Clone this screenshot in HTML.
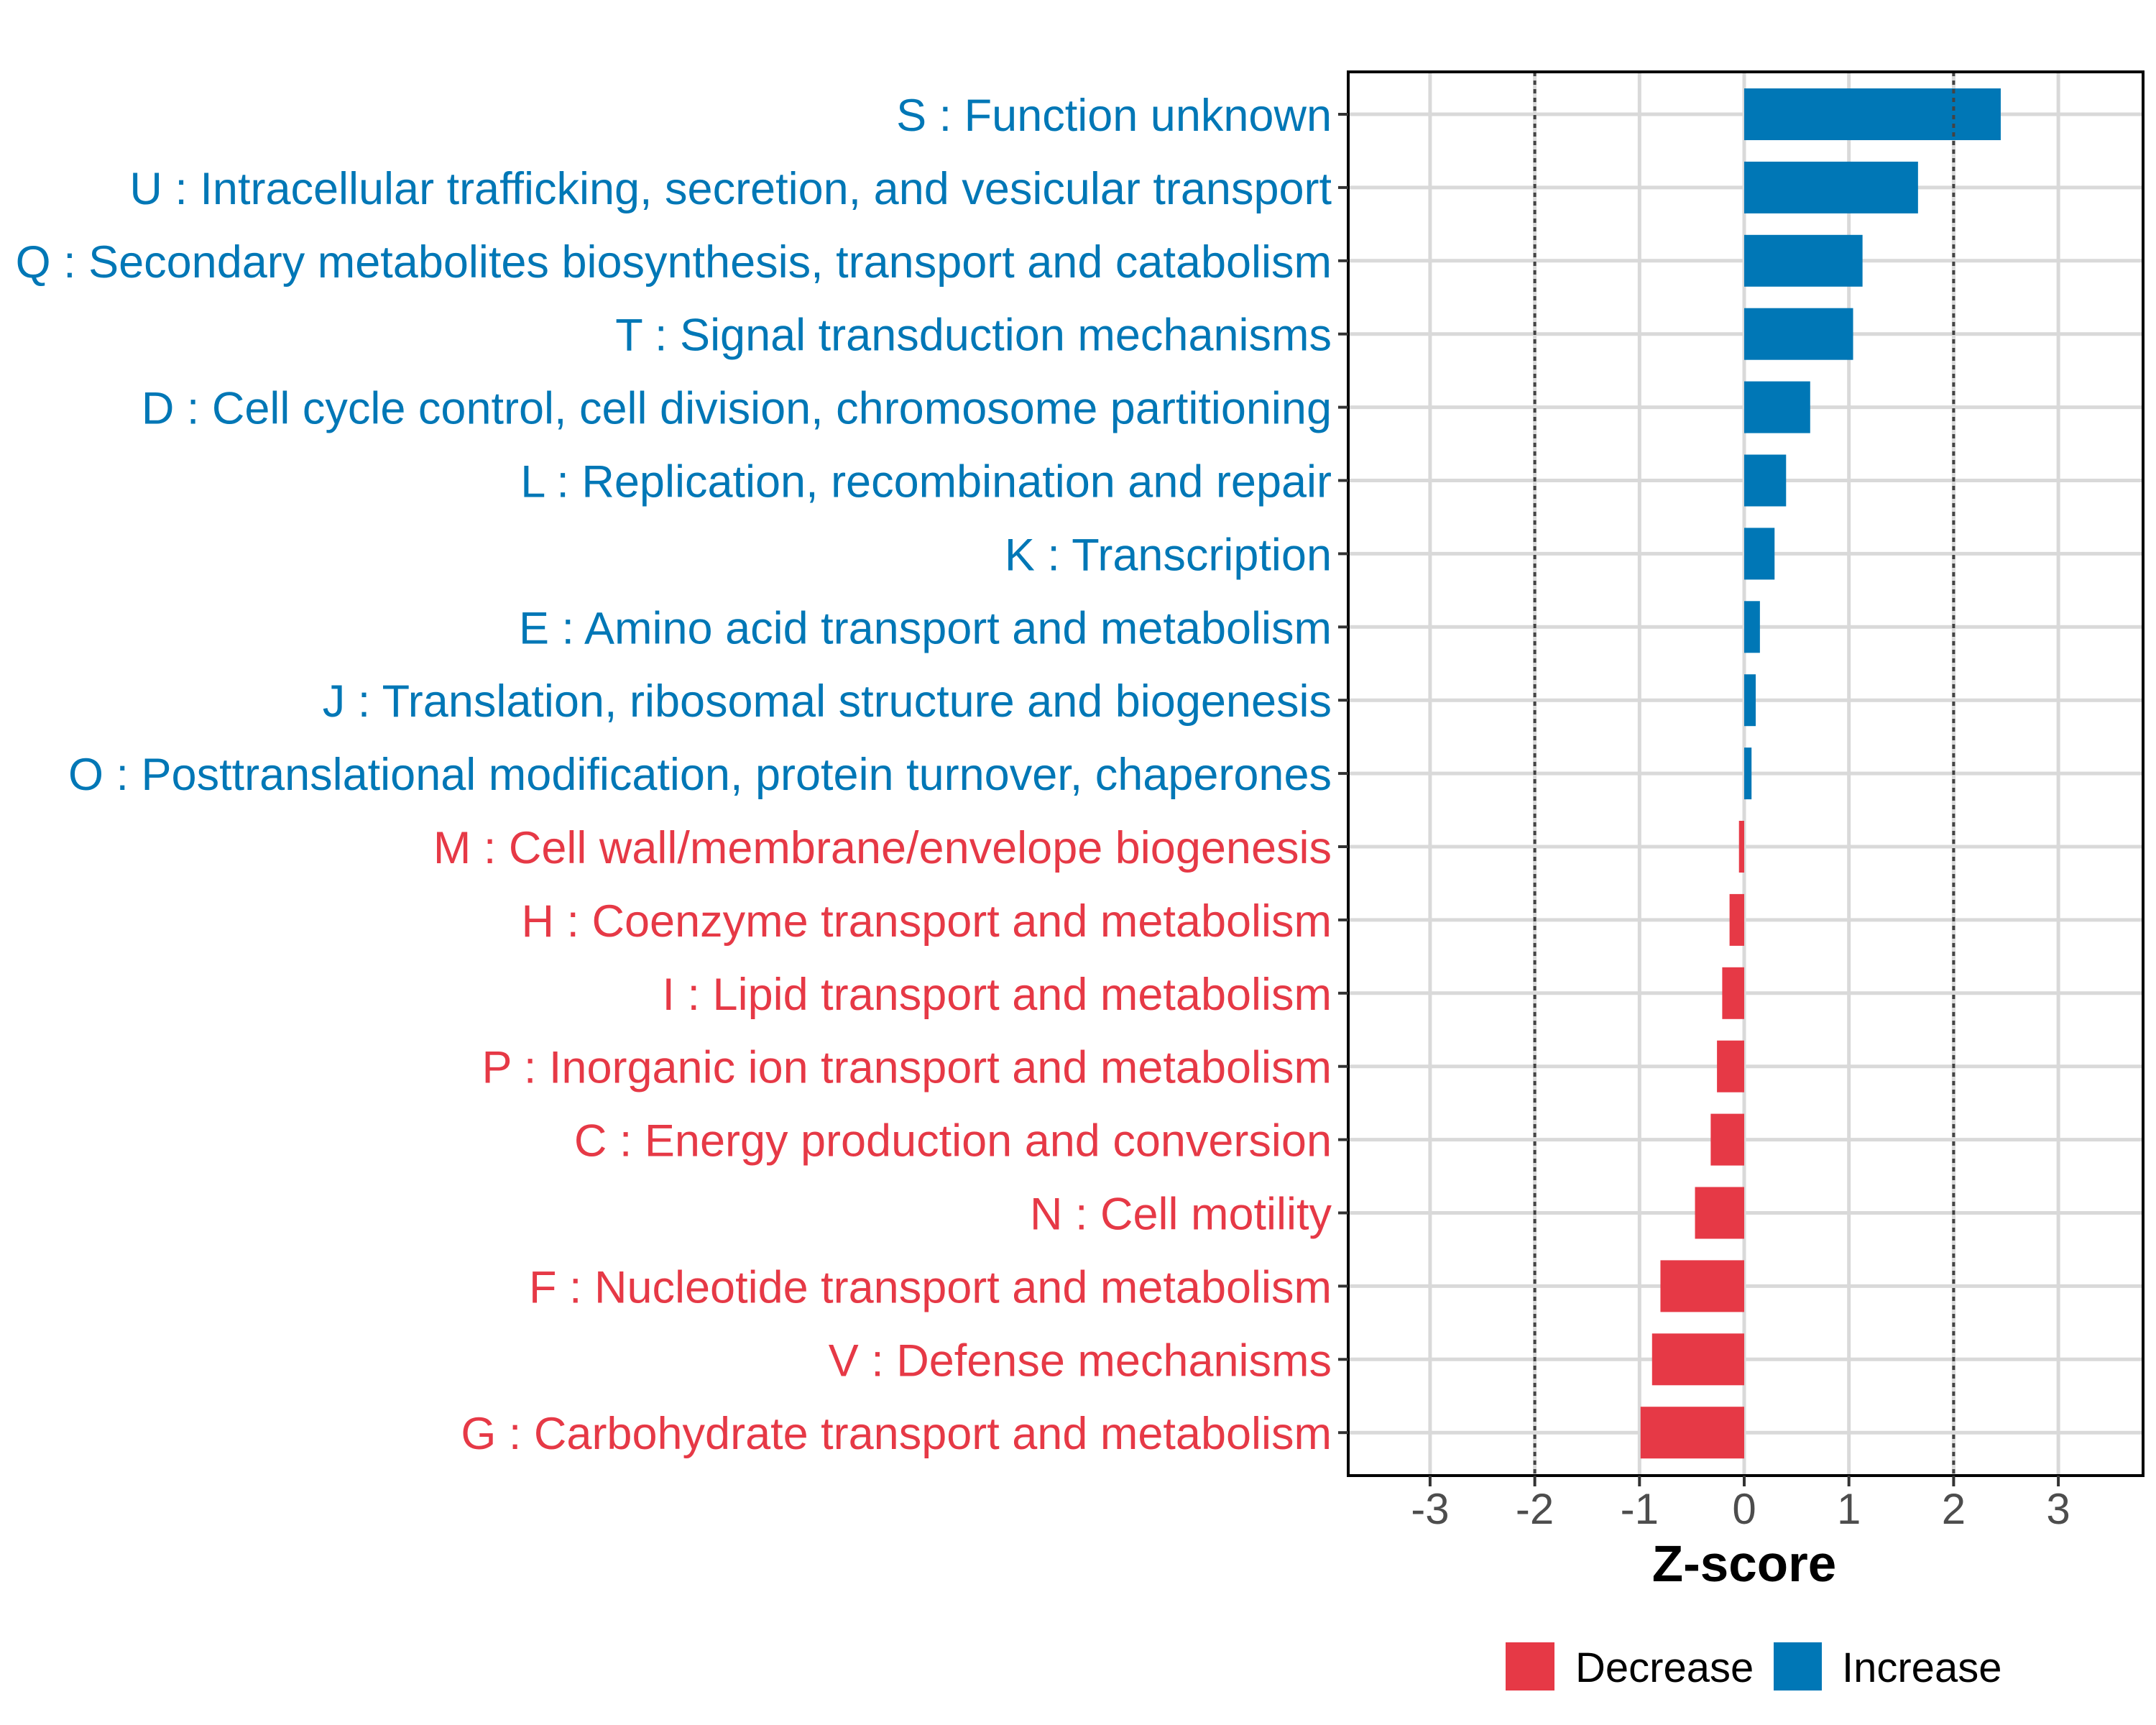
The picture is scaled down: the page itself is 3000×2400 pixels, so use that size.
<!DOCTYPE html>
<html><head><meta charset="utf-8"><style>
html,body{margin:0;padding:0;background:#fff}
svg{display:block}
text{font-family:"Liberation Sans",sans-serif}
</style></head><body>
<svg id="chart" width="3000" height="2400" viewBox="0 0 3000 2400" xmlns="http://www.w3.org/2000/svg">
<g id="grid"></g>
<g id="bars"></g>
<g id="refs"></g>
<rect x="1876" y="100" width="1106" height="1953" fill="none" stroke="#000" stroke-width="4"/>
<g id="ylabels"></g>
<g id="xticks"></g>
<text x="2427" y="2200" text-anchor="middle" font-size="71" font-weight="bold" fill="#000">Z-score</text>
<g>
<rect x="2095" y="2285" width="68" height="67" fill="#e63946"/>
<text x="2192" y="2340" font-size="58" fill="#000">Decrease</text>
<rect x="2468" y="2285" width="67" height="67" fill="#0077b6"/>
<text x="2563" y="2340" font-size="58" fill="#000">Increase</text>
</g>
</svg>
<script>
const categories = ["S : Function unknown","U : Intracellular trafficking, secretion, and vesicular transport","Q : Secondary metabolites biosynthesis, transport and catabolism","T : Signal transduction mechanisms","D : Cell cycle control, cell division, chromosome partitioning","L : Replication, recombination and repair","K : Transcription","E : Amino acid transport and metabolism","J : Translation, ribosomal structure and biogenesis","O : Posttranslational modification, protein turnover, chaperones","M : Cell wall/membrane/envelope biogenesis","H : Coenzyme transport and metabolism","I : Lipid transport and metabolism","P : Inorganic ion transport and metabolism","C : Energy production and conversion","N : Cell motility","F : Nucleotide transport and metabolism","V : Defense mechanisms","G : Carbohydrate transport and metabolism"];
const zscores = [2.45,1.66,1.13,1.04,0.63,0.40,0.29,0.15,0.11,0.07,-0.05,-0.14,-0.21,-0.26,-0.32,-0.47,-0.80,-0.88,-0.99];
const xTicks = [-3,-2,-1,0,1,2,3];
const xTickLabels = ["-3","-2","-1","0","1","2","3"];
const refLines = [-2,2];

const NS="http://www.w3.org/2000/svg";
const X0=2427, XU=145.7, Y0=159, YS=101.9, BH=72;
const xs=v=>X0+v*XU;
const ys=i=>Y0+i*YS;
function mk(tag,attrs,parent){const e=document.createElementNS(NS,tag);for(const k in attrs)e.setAttribute(k,attrs[k]);parent.appendChild(e);return e;}
const grid=document.getElementById('grid'),bars=document.getElementById('bars'),refs=document.getElementById('refs'),yl=document.getElementById('ylabels'),xt=document.getElementById('xticks');
xTicks.forEach((t,i)=>{
  const l=mk('line',{x1:xs(t),x2:xs(t),y1:100,y2:2053,stroke:'#d9d9d9','stroke-width':5},grid);
  
  
  const tk=mk('line',{x1:xs(t),x2:xs(t),y1:2053,y2:2068,stroke:'#333','stroke-width':4},xt);
  
  
  const tx=mk('text',{x:xs(t),y:2120,'text-anchor':'middle','font-size':60,fill:'#4d4d4d'},xt);
  tx.textContent=xTickLabels[i];
  
  
});
categories.forEach((c,i)=>{
  const y=ys(i);
  const g=mk('line',{x1:1876,x2:2982,y1:y,y2:y,stroke:'#d9d9d9','stroke-width':5},grid);
  
  
  const v=zscores[i];
  const col=v>=0?'#0077b6':'#e63946';
  const r=mk('rect',{x:Math.min(xs(0),xs(v)),y:y-BH/2,width:Math.abs(xs(v)-xs(0)),height:BH,fill:col},bars);
  
  
  const tk=mk('line',{x1:1862,x2:1876,y1:y,y2:y,stroke:'#333','stroke-width':4},yl);
  
  
  const t=mk('text',{x:1853,y:y+23,'text-anchor':'end','font-size':63,fill:col},yl);
  t.textContent=c;
  
  
});
refLines.forEach(v=>{
  const l=mk('line',{x1:xs(v),x2:xs(v),y1:100,y2:2053,stroke:'#444','stroke-width':4,'stroke-dasharray':'6,6'},refs);
  
  
});
</script>
</body></html>
